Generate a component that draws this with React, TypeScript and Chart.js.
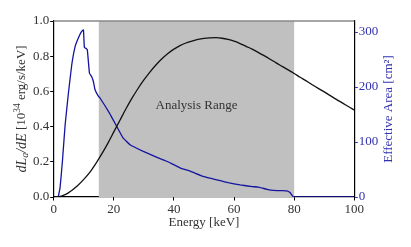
import React, { useEffect, useRef } from "react";
import { Chart, registerables } from "chart.js";

Chart.register(...registerables);

// Axion spectrum dL/dE [10^34 erg/s/keV]
const specE = [0, 1, 2, 3, 4, 5, 6, 8, 10, 12, 14, 16, 18, 20, 22, 24, 26, 28, 30, 32, 34, 36, 38, 40, 42, 44, 46, 48, 50, 52, 54, 56, 58, 60, 62, 64, 66, 68, 70, 72, 74, 76, 78, 80, 82, 84, 86, 88, 90, 92, 94, 96, 98, 100];
const specVal = [0, 0, 0.003, 0.008, 0.015, 0.025, 0.037, 0.065, 0.1, 0.14, 0.19, 0.245, 0.305, 0.37, 0.435, 0.5, 0.56, 0.615, 0.665, 0.71, 0.75, 0.785, 0.815, 0.84, 0.86, 0.875, 0.886, 0.895, 0.901, 0.904, 0.905, 0.902, 0.895, 0.885, 0.872, 0.856, 0.84, 0.822, 0.803, 0.783, 0.762, 0.742, 0.722, 0.702, 0.68, 0.66, 0.638, 0.617, 0.597, 0.576, 0.555, 0.535, 0.514, 0.494];

// Effective area [cm^2]
const areaE = [1.5, 2.1, 2.9, 3.8, 4.9, 6.0, 7.1, 8.2, 9.3, 9.9, 10.2, 10.8, 11.2, 11.9, 12.6, 13.2, 13.75, 14.9, 15.4, 18.5, 21, 23, 25.4, 29.8, 34, 37.6, 42, 45.4, 50, 54.3, 58, 62, 66, 68, 69.5, 70.9, 73, 76, 77.6, 78.6, 79.3, 79.8, 85, 90, 95, 100];
const areaVal = [0, 16, 65, 131, 189, 240, 273, 289, 301, 304, 272, 270, 267, 225, 219, 210, 195, 183, 180, 153, 128, 108, 95, 83, 73, 65, 53, 47, 37, 31, 26, 22, 19, 18, 16, 14, 12, 11.5, 11, 8, 3, 0, 0, 0, 0, 0];

const xTicks = [0, 20, 40, 60, 80, 100];
const yTicks = [0, 0.2, 0.4, 0.6, 0.8, 1.0];
const y2Ticks = [0, 100, 200, 300];

const bandRange = [15, 80];
const bandLabel = "Analysis Range";
const xTitle = "Energy [keV]";
const y2Title = "Effective Area [cm²]";

const SERIF = "'Liberation Serif', 'DejaVu Serif', serif";
const BLUE_LINE = "#1414a0";
const BLUE_TEXT = "#3030b0";

type Seg = { t: string; italic?: boolean; size: number; dy?: number };

function drawRich(ctx: CanvasRenderingContext2D, segs: Seg[], cx: number, cy: number, color: string) {
  ctx.save();
  ctx.translate(cx, cy);
  ctx.rotate(-Math.PI / 2);
  ctx.fillStyle = color;
  ctx.textBaseline = "middle";
  ctx.textAlign = "left";
  let total = 0;
  const widths: number[] = [];
  for (const s of segs) {
    ctx.font = `${s.italic ? "italic " : ""}${s.size}px ${SERIF}`;
    const w = ctx.measureText(s.t).width;
    widths.push(w);
    total += w;
  }
  let x = -total / 2;
  segs.forEach((s, i) => {
    ctx.font = `${s.italic ? "italic " : ""}${s.size}px ${SERIF}`;
    ctx.fillText(s.t, x, s.dy || 0);
    x += widths[i];
  });
  ctx.restore();
}

const decorPlugin = {
  id: "decor",
  beforeDatasetsDraw(chart: any) {
    const { ctx, chartArea, scales } = chart;
    const x0 = scales.x.getPixelForValue(bandRange[0]);
    const x1 = scales.x.getPixelForValue(bandRange[1]);
    ctx.save();
    ctx.fillStyle = "#c0c0c0";
    ctx.fillRect(x0, chartArea.top, x1 - x0, chartArea.bottom - chartArea.top);
    ctx.fillStyle = "#333333";
    ctx.font = `13px ${SERIF}`;
    ctx.textAlign = "center";
    ctx.textBaseline = "middle";
    ctx.fillText(bandLabel, scales.x.getPixelForValue(47.5), scales.y.getPixelForValue(0.52));
    ctx.restore();
  },
  afterDraw(chart: any) {
    const { ctx, chartArea } = chart;
    ctx.save();
    ctx.strokeStyle = "#888888";
    ctx.lineWidth = 1.5;
    ctx.beginPath();
    ctx.moveTo(chartArea.left, chartArea.top);
    ctx.lineTo(chartArea.right, chartArea.top);
    ctx.stroke();
    ctx.fillStyle = "#333333";
    ctx.font = `13px ${SERIF}`;
    ctx.textAlign = "center";
    ctx.textBaseline = "middle";
    ctx.fillText(xTitle, (chartArea.left + chartArea.right) / 2, 223);
    ctx.restore();
    drawRich(
      ctx,
      [
        { t: "dL", italic: true, size: 14 },
        { t: "a", italic: true, size: 10, dy: 3 },
        { t: "/dE", italic: true, size: 14 },
        { t: " [10", size: 13 },
        { t: "34", size: 9.5, dy: -5 },
        { t: " erg/s/keV]", size: 13 },
      ],
      22,
      109,
      "#333333"
    );
    drawRich(ctx, [{ t: y2Title, size: 13 }], 389, 109, BLUE_TEXT);
  },
};

export default function App() {
  const ref = useRef<HTMLCanvasElement | null>(null);
  useEffect(() => {
    if (!ref.current) return;
    const chart = new Chart(ref.current, {
      type: "line",
      data: {
        datasets: [
          {
            data: specE.map((e, i) => ({ x: e, y: specVal[i] })),
            borderColor: "#111111",
            borderWidth: 1.3,
            pointRadius: 0,
            cubicInterpolationMode: "monotone",
            yAxisID: "y",
          },
          {
            data: areaE.map((e, i) => ({ x: e, y: areaVal[i] })),
            borderColor: BLUE_LINE,
            borderWidth: 1.3,
            pointRadius: 0,
            tension: 0.1,
            yAxisID: "y2",
          },
        ],
      },
      options: {
        animation: false,
        responsive: false,
        maintainAspectRatio: false,
        layout: { padding: { top: 21, left: 0, right: 0, bottom: 0 } },
        plugins: { legend: { display: false }, tooltip: { enabled: false } },
        scales: {
          x: {
            type: "linear",
            min: 0,
            max: 100,
            afterBuildTicks: (s: any) => { s.ticks = xTicks.map((v) => ({ value: v })); },
            afterFit: (s: any) => { s.height = 50; },
            ticks: { color: "#333333", font: { family: SERIF, size: 13 }, padding: 1, maxRotation: 0 },
            grid: { drawOnChartArea: false, tickLength: 3.5, color: "#000000", tickColor: "#000000" },
            border: { color: "#000000", width: 1.2 },
          },
          y: {
            type: "linear",
            position: "left",
            min: 0,
            max: 1,
            afterBuildTicks: (s: any) => { s.ticks = yTicks.map((v) => ({ value: v })); },
            afterFit: (s: any) => { s.width = 53.7; },
            ticks: { color: "#333333", font: { family: SERIF, size: 13 }, padding: 1, callback: (v: any) => Number(v).toFixed(1) },
            grid: { drawOnChartArea: false, tickLength: 3.5, color: "#000000", tickColor: "#000000" },
            border: { color: "#000000", width: 1.2 },
          },
          y2: {
            type: "linear",
            position: "right",
            min: 0,
            max: 320,
            afterBuildTicks: (s: any) => { s.ticks = y2Ticks.map((v) => ({ value: v })); },
            afterFit: (s: any) => { s.width = 56.7; },
            ticks: { color: BLUE_TEXT, font: { family: SERIF, size: 13 }, padding: 1 },
            grid: { drawOnChartArea: false, tickLength: 3.5, color: BLUE_TEXT, tickColor: BLUE_TEXT },
            border: { color: "#000000", width: 1.2 },
          },
        },
      },
      plugins: [decorPlugin],
    });
    return () => chart.destroy();
  }, []);
  return (
    <div style={{ position: "fixed", left: 0, top: 0, width: 411, height: 247, background: "#fff" }}>
      <canvas ref={ref} width={411} height={247} style={{ width: 411, height: 247 }} />
    </div>
  );
}
